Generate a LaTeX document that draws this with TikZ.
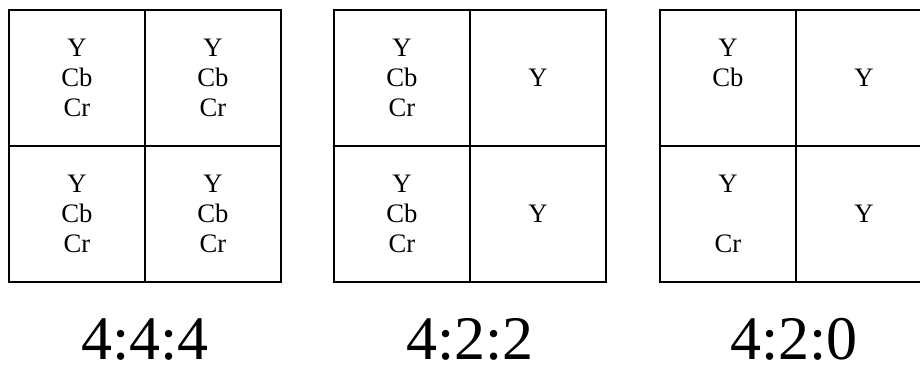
\documentclass[tikz,border=0pt]{standalone}
\usepackage{fontspec}
\setmainfont{Liberation Serif}
\begin{document}
\begin{tikzpicture}[x=0.75pt, y=-0.75pt, line width=1.1pt,
    cell/.style={draw, minimum width=102pt, minimum height=102pt, inner sep=0pt,
      outer sep=0pt, align=center, font=\fontsize{20}{22.5}\selectfont},
    ratio/.style={anchor=base, inner sep=0pt, font=\fontsize{46.5}{50}\selectfont}]
  \clip (0,0) rectangle (920,365);
  % 4:4:4, todo en cada celda
  \node[cell] (a11) at (77,78)   {Y\\Cb\\Cr};
  \node[cell] (a12) at (213,78)  {Y\\Cb\\Cr};
  \node[cell] (a21) at (77,214)  {Y\\Cb\\Cr};
  \node[cell] (a22) at (213,214) {Y\\Cb\\Cr};
  % 4:2:2, el croma solo en la columna izquierda
  \node[cell] (b11) at (402,78)  {Y\\Cb\\Cr};
  \node[cell] (b12) at (538,78)  {Y};
  \node[cell] (b21) at (402,214) {Y\\Cb\\Cr};
  \node[cell] (b22) at (538,214) {Y};
  % 4:2:0, Cb arriba y Cr abajo
  \node[cell] (c11) at (728,78)  {Y\\Cb\\\phantom{Cr}};
  \node[cell] (c12) at (864,78)  {Y};
  \node[cell] (c21) at (728,214) {Y\\\phantom{Cb}\\Cr};
  \node[cell] (c22) at (864,214) {Y};
  % los rotulos
  \node[ratio] (la) at (145,359) {4:4:4};
  \node[ratio] (lb) at (470,359) {4:2:2};
  \node[ratio] (lc) at (794,359) {4:2:0};
\end{tikzpicture}
\end{document}
